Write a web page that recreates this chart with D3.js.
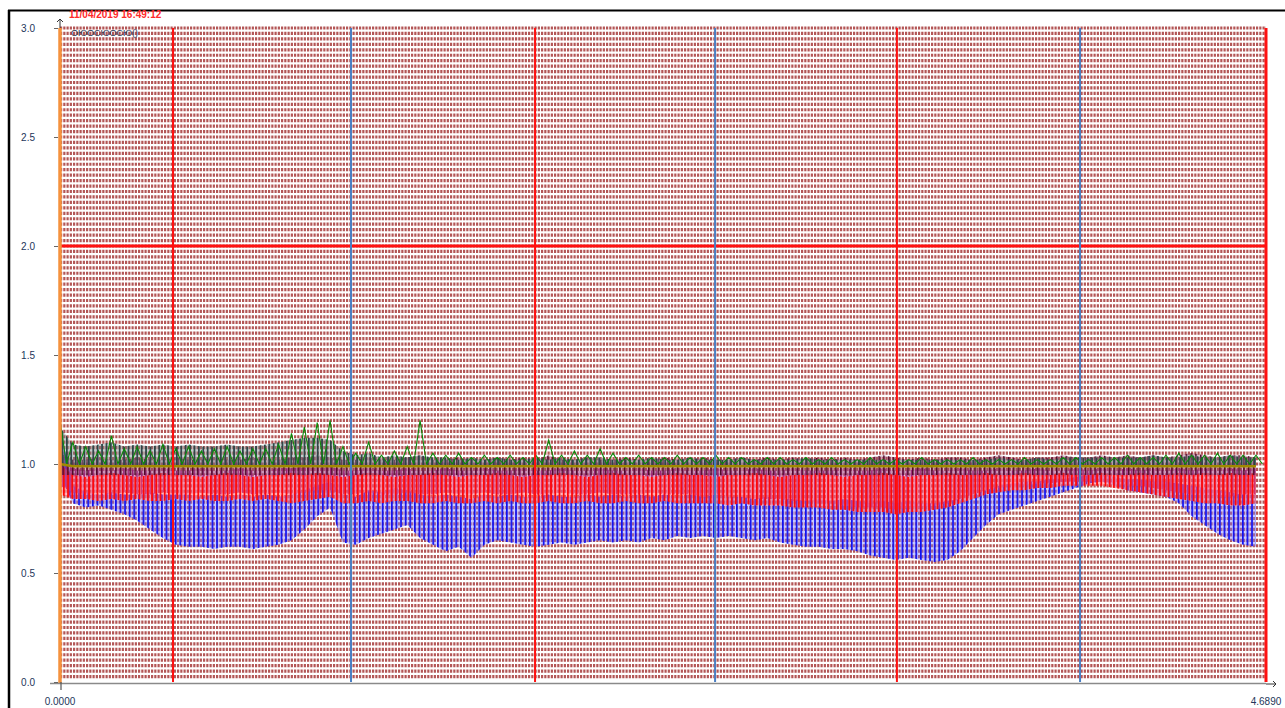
<!DOCTYPE html>
<html><head><meta charset="utf-8">
<script src="https://cdn.jsdelivr.net/npm/d3@7"></script>
<style>html,body{margin:0;padding:0;background:#fff;overflow:hidden}svg{display:block}</style>
</head><body>
<svg id="c" width="1285" height="708"></svg>
<script>
// ---------- data ----------
const timestamp = "11/04/2019 16:49:12";
const channelLabel = "ОЮОСЮОСЮ()";
const yTicks = [0.0, 0.5, 1.0, 1.5, 2.0, 2.5, 3.0];
const xTickLabels = ["0.0000", "4.6890"];
const xDomain = [0, 4.689];
const yDomain = [0, 3.0];
const redMarkers = [0.4394, 1.847, 3.254];
const blueMarkers = [1.1315, 2.547, 3.966];
const limitLine = 2.0;
const sampleStep = 0.05;

const blueLow = [0.95,0.82,0.80,0.81,0.79,0.77,0.74,0.70,0.66,0.63,
 0.62,0.62,0.61,0.62,0.62,0.61,0.62,0.63,0.65,0.70,
 0.76,0.80,0.64,0.63,0.66,0.68,0.70,0.72,0.66,0.63,
 0.60,0.62,0.57,0.63,0.65,0.64,0.63,0.62,0.63,0.64,
 0.63,0.64,0.65,0.64,0.65,0.64,0.66,0.65,0.67,0.66,
 0.67,0.66,0.67,0.66,0.65,0.66,0.64,0.63,0.62,0.62,
 0.61,0.61,0.60,0.58,0.57,0.56,0.57,0.56,0.55,0.56,
 0.60,0.66,0.72,0.77,0.79,0.81,0.83,0.85,0.87,0.89,
 0.91,0.92,0.90,0.88,0.87,0.86,0.85,0.82,0.76,0.72,
 0.68,0.65,0.63,0.62];
const blueHigh = [1.16,0.90,0.87,0.86,0.87,0.86,0.86,0.87,0.86,0.86,
 0.86,0.85,0.86,0.85,0.86,0.85,0.86,0.85,0.86,0.88,
 0.90,0.92,0.86,0.85,0.88,0.87,0.89,0.88,0.86,0.85,
 0.86,0.85,0.84,0.86,0.85,0.86,0.85,0.85,0.86,0.85,
 0.85,0.86,0.85,0.86,0.85,0.86,0.85,0.86,0.85,0.86,
 0.85,0.86,0.85,0.85,0.84,0.85,0.84,0.84,0.83,0.84,
 0.83,0.84,0.83,0.82,0.83,0.82,0.83,0.82,0.82,0.83,
 0.84,0.86,0.88,0.90,0.91,0.92,0.92,0.93,0.93,0.94,
 0.95,0.95,0.94,0.93,0.93,0.92,0.92,0.91,0.90,0.89,
 0.88,0.87,0.86,0.86];
const redLow = [0.86,0.84,0.84,0.83,0.84,0.83,0.84,0.83,0.83,0.84,
 0.83,0.84,0.83,0.83,0.84,0.83,0.84,0.83,0.82,0.83,
 0.84,0.85,0.82,0.82,0.83,0.82,0.83,0.83,0.82,0.82,
 0.83,0.82,0.82,0.83,0.82,0.83,0.82,0.82,0.83,0.82,
 0.82,0.83,0.82,0.82,0.83,0.82,0.82,0.83,0.82,0.82,
 0.82,0.82,0.81,0.82,0.81,0.81,0.81,0.80,0.80,0.80,
 0.79,0.79,0.78,0.78,0.78,0.77,0.78,0.78,0.79,0.80,
 0.82,0.84,0.86,0.87,0.88,0.88,0.89,0.89,0.90,0.90,
 0.90,0.90,0.89,0.88,0.87,0.86,0.85,0.84,0.83,0.82,
 0.82,0.81,0.81,0.82];
const redHigh = [1.00,0.95,0.94,0.95,0.96,0.95,0.94,0.95,0.96,0.95,
 0.95,0.94,0.95,0.96,0.95,0.94,0.95,0.95,0.96,0.95,
 0.96,0.95,0.94,0.95,0.96,0.95,0.94,0.95,0.95,0.96,
 0.95,0.94,0.95,0.95,0.96,0.95,0.94,0.95,0.95,0.96,
 0.95,0.94,0.95,0.96,0.95,0.95,0.94,0.95,0.96,0.95,
 0.95,0.94,0.95,0.95,0.96,0.95,0.94,0.95,0.95,0.96,
 0.95,0.94,0.95,0.95,0.96,0.95,0.94,0.95,0.95,0.96,
 0.95,0.95,0.96,0.95,0.95,0.96,0.95,0.95,0.96,0.95,
 0.95,0.96,0.95,0.95,0.96,0.95,0.95,0.96,0.95,0.96,
 0.95,0.96,0.95,0.96];
const magentaLow = [0.90,0.87,0.86,0.87,0.86,0.87,0.86,0.86,0.87,0.86,
 0.86,0.87,0.86,0.86,0.87,0.86,0.86,0.87,0.86,0.87,
 0.88,0.88,0.86,0.86,0.87,0.86,0.86,0.87,0.86,0.86,
 0.87,0.86,0.86,0.87,0.86,0.86,0.87,0.86,0.86,0.87,
 0.86,0.86,0.87,0.86,0.86,0.86,0.87,0.86,0.86,0.86,
 0.85,0.86,0.85,0.85,0.84,0.84,0.84,0.83,0.83,0.82,
 0.82,0.81,0.80,0.80,0.80,0.79,0.80,0.80,0.81,0.82,
 0.84,0.86,0.88,0.89,0.90,0.90,0.91,0.91,0.92,0.92,
 0.92,0.92,0.91,0.90,0.90,0.89,0.88,0.87,0.86,0.86,
 0.85,0.85,0.86,0.86];
const magentaHigh = [1.02,0.98,0.97,0.98,0.97,0.98,0.97,0.97,0.98,0.97,
 0.97,0.98,0.97,0.97,0.98,0.97,0.97,0.98,0.98,0.99,
 0.99,0.99,0.97,0.97,0.98,0.97,0.97,0.98,0.97,0.97,
 0.98,0.97,0.97,0.98,0.97,0.97,0.98,0.97,0.97,0.98,
 0.97,0.97,0.98,0.97,0.97,0.98,0.97,0.97,0.98,0.97,
 0.97,0.98,0.97,0.97,0.98,0.97,0.97,0.98,0.97,0.97,
 0.97,0.98,0.97,0.97,0.98,0.97,0.97,0.98,0.97,0.97,
 0.98,0.97,0.97,0.98,0.97,0.97,0.98,0.97,0.97,0.98,
 0.97,0.98,0.97,0.98,0.97,0.98,0.97,0.98,0.97,0.98,
 0.97,0.98,0.97,0.98];
const maroonBase = 0.95;
const maroonTop = [1.05,1.02,1.02,1.03,1.02,1.02,1.03,1.02,1.02,1.03,
 1.02,1.02,1.03,1.02,1.02,1.03,1.02,1.02,1.03,1.03,
 1.04,1.03,1.02,1.02,1.03,1.02,1.02,1.03,1.04,1.02,
 1.02,1.03,1.02,1.02,1.03,1.02,1.03,1.02,1.04,1.02,
 1.02,1.03,1.02,1.02,1.03,1.02,1.02,1.03,1.02,1.02,
 1.03,1.02,1.02,1.03,1.02,1.03,1.02,1.03,1.02,1.03,
 1.02,1.03,1.02,1.03,1.04,1.03,1.02,1.03,1.02,1.03,
 1.03,1.02,1.03,1.04,1.03,1.02,1.03,1.03,1.04,1.03,
 1.03,1.04,1.03,1.04,1.03,1.04,1.03,1.04,1.05,1.04,
 1.03,1.04,1.04,1.03];
const grayBase = 0.99;
const grayTop = [1.17,1.09,1.08,1.09,1.10,1.08,1.09,1.08,1.09,1.08,
 1.09,1.08,1.08,1.09,1.08,1.08,1.09,1.10,1.11,1.12,
 1.12,1.11,1.06,1.04,1.05,1.03,1.04,1.03,1.04,1.03,
 1.03,1.02,1.03,1.02,1.03,1.02,1.02,1.03,1.02,1.03,
 1.02,1.03,1.03,1.02,1.02,1.02,1.03,1.02,1.02,1.03,
 1.02,1.02,1.02,1.03,1.02,1.02,1.02,1.02,1.03,1.02,
 1.02,1.02,1.02,1.02,1.02,1.02,1.02,1.02,1.02,1.02,
 1.02,1.02,1.02,1.03,1.02,1.02,1.03,1.02,1.03,1.03,
 1.03,1.03,1.03,1.03,1.03,1.04,1.03,1.03,1.04,1.03,
 1.03,1.04,1.03,1.03];
const greenBase = 1.0;
const greenTop = [1.20,1.10,1.08,1.06,1.13,1.07,1.08,1.06,1.09,1.07,
 1.08,1.06,1.07,1.08,1.06,1.07,1.07,1.09,1.14,1.17,
 1.19,1.20,1.08,1.05,1.10,1.04,1.06,1.08,1.20,1.05,
 1.04,1.05,1.03,1.04,1.03,1.04,1.03,1.04,1.11,1.04,
 1.06,1.04,1.07,1.05,1.03,1.04,1.03,1.03,1.04,1.03,
 1.03,1.04,1.03,1.03,1.02,1.03,1.03,1.02,1.03,1.02,
 1.03,1.02,1.02,1.03,1.02,1.02,1.02,1.03,1.02,1.02,
 1.02,1.03,1.02,1.02,1.02,1.03,1.02,1.02,1.03,1.03,
 1.02,1.03,1.03,1.04,1.03,1.03,1.04,1.05,1.04,1.04,
 1.05,1.04,1.04,1.04];
const oliveVals = [1.00,0.99,0.99,0.99,0.99,0.99,0.99,0.99,0.99,0.99,
 0.99,0.99,0.99,0.99,0.99,0.99,0.99,0.99,0.99,0.99,
 0.99,0.99,0.99,0.99,0.99,0.99,0.99,0.99,0.99,0.99,
 0.99,0.99,0.99,0.99,0.99,0.99,0.99,0.99,0.99,0.99,
 0.99,0.99,0.99,0.99,0.99,0.99,0.99,0.99,0.99,0.99,
 0.99,0.99,0.99,0.99,0.99,0.99,0.99,0.99,0.99,0.99,
 0.99,0.99,0.99,0.99,0.99,0.99,0.99,0.99,0.99,0.99,
 0.99,0.99,0.99,0.99,0.99,0.99,0.99,0.99,0.99,0.99,
 0.99,0.99,0.99,0.99,0.99,0.99,0.99,0.99,0.99,0.99,
 0.99,0.99,0.99,0.99];

// ---------- layout ----------
const svg = d3.select("#c");
const L = 60, R = 1266, T = 28, B = 682;
const x = d3.scaleLinear().domain(xDomain).range([L, R]);
const y = d3.scaleLinear().domain(yDomain).range([B, T]);
const FONT = "'Liberation Sans', Arial, sans-serif";

// stripe patterns for dense signal bands
const defs = svg.append("defs");
function stripe(id, color, bg, w, sw) {
  const p = defs.append("pattern").attr("id", id).attr("patternUnits", "userSpaceOnUse")
    .attr("width", w).attr("height", 10);
  p.append("rect").attr("width", w).attr("height", 10).attr("fill", bg);
  p.append("rect").attr("width", sw).attr("height", 10).attr("fill", color);
}
stripe("pBlue", "#1010f0", "rgba(120,120,255,0.4)", 4.6, 1.7);
stripe("pRed", "#ff0808", "rgba(255,90,110,0.45)", 4.2, 1.8);
stripe("pMag", "#a0107e", "rgba(200,90,180,0.35)", 4.4, 1.4);
stripe("pMar", "#50082a", "rgba(140,60,100,0.35)", 4.8, 1.5);
stripe("pGray", "#2c4446", "rgba(110,130,130,0.4)", 4.4, 1.7);

// frame
svg.append("line").attr("x1",9).attr("x2",9).attr("y1",10).attr("y2",708).attr("stroke","#000").attr("stroke-width",2.5);
svg.append("line").attr("x1",8).attr("x2",1285).attr("y1",10.5).attr("y2",10.5).attr("stroke","#000").attr("stroke-width",2);

// background grid: rows of short dashes
const grid = svg.append("g");
const hStep = 0.025;
const hLines = d3.range(yDomain[0] + hStep, yDomain[1] + 1e-9, hStep);
grid.selectAll("line.h").data(hLines).join("line")
  .attr("x1", L).attr("x2", R).attr("y1", d => y(d)).attr("y2", d => y(d))
  .attr("stroke", "#b35656").attr("stroke-width", 3.2).attr("stroke-dasharray", "2.2,1.05");

// series: striped min/max bands
function zig(low, high) {
  const pts = [];
  high.forEach((h, i) => {
    const lo = Array.isArray(low) ? low[i] : low;
    const xi = i * sampleStep;
    pts.push([xi, h]);
    if (xi + sampleStep / 2 <= xDomain[1]) pts.push([xi + sampleStep / 2, lo]);
  });
  return pts;
}
function band(low, high) {
  return high.map((h, i) => ({x: Math.min(i * sampleStep, xDomain[1]), lo: Array.isArray(low) ? low[i] : low, hi: h}));
}
const line = d3.line().x(d => x(d[0])).y(d => y(d[1]));
const area = d3.area().x(d => x(d.x)).y0(d => y(d.lo)).y1(d => y(d.hi));
const series = [
  {low: blueLow, high: blueHigh, pat: "pBlue"},
  {low: magentaLow, high: magentaHigh, pat: "pMag"},
  {low: redLow, high: redHigh, pat: "pRed"},
  {low: maroonBase, high: maroonTop, pat: "pMar"},
  {low: grayBase, high: grayTop, pat: "pGray"},
];
const sg = svg.append("g");
series.forEach(s => {
  sg.append("path").attr("d", area(band(s.low, s.high))).attr("fill", `url(#${s.pat})`);
});
sg.append("path").attr("d", line(zig(greenBase, greenTop))).attr("fill","none")
  .attr("stroke", "#0a8a0a").attr("stroke-width", 1.1);
sg.append("path").attr("d", line(oliveVals.map((v,i)=>[i*sampleStep, v]))).attr("fill","none")
  .attr("stroke","#a08a00").attr("stroke-width",2.5);

// limit line & markers
svg.append("line").attr("x1",L).attr("x2",R).attr("y1",y(limitLine)).attr("y2",y(limitLine))
  .attr("stroke","#ff1010").attr("stroke-width",3);
svg.selectAll("line.rm").data(redMarkers).join("line")
  .attr("x1",d=>x(d)).attr("x2",d=>x(d)).attr("y1",T).attr("y2",B)
  .attr("stroke","#ff1010").attr("stroke-width",2);
svg.selectAll("line.bm").data(blueMarkers).join("line")
  .attr("x1",d=>x(d)).attr("x2",d=>x(d)).attr("y1",T).attr("y2",B)
  .attr("stroke","#4a7fc4").attr("stroke-width",2);
svg.append("line").attr("x1",x(xDomain[1])).attr("x2",x(xDomain[1])).attr("y1",T).attr("y2",B)
  .attr("stroke","#ff1010").attr("stroke-width",3);
svg.append("line").attr("x1",L).attr("x2",L).attr("y1",T).attr("y2",B+1)
  .attr("stroke","#f5923e").attr("stroke-width",3.5);

// axes
svg.append("line").attr("x1",50).attr("x2",R).attr("y1",B+1.5).attr("y2",B+1.5).attr("stroke","#8a8a8a").attr("stroke-width",1.5);
svg.append("line").attr("x1",L+1).attr("x2",L+1).attr("y1",B).attr("y2",B+8).attr("stroke","#555").attr("stroke-width",1.2);
svg.append("path").attr("d",`M${L},${T} L${L},${T-9} M${L-3},${T-6} L${L},${T-9} L${L+3},${T-6}`).attr("fill","none").attr("stroke","#333").attr("stroke-width",1);
svg.append("path").attr("d",`M${R},${B+2} L${R+10},${B+2} M${R+7},${B-1} L${R+10},${B+2} L${R+7},${B+5}`).attr("fill","none").attr("stroke","#333").attr("stroke-width",1);

const yAxis = d3.axisLeft(y).tickValues(yTicks).tickFormat(d3.format(".1f")).tickSize(4).tickPadding(19);
const ya = svg.append("g").attr("transform",`translate(${L-2},0)`).call(yAxis);
ya.select(".domain").remove();
ya.selectAll(".tick line").attr("stroke","#666");
ya.selectAll("text").attr("font-family",FONT).attr("font-size",10).attr("fill","#23365a");

svg.selectAll("text.xl").data(xDomain).join("text")
  .attr("x", d => x(d)).attr("y", 705).attr("text-anchor","middle")
  .attr("font-family",FONT).attr("font-size",10).attr("fill","#23365a")
  .text((d,i) => xTickLabels[i]);

svg.append("text").attr("x",69).attr("y",18).attr("font-family",FONT)
  .attr("font-size",10).attr("font-weight","bold").attr("fill","#ff2a2a").text(timestamp);
svg.append("text").attr("x",71).attr("y",36).attr("font-family",FONT)
  .attr("font-size",9).attr("fill","#2a3550").text(channelLabel);
</script>
</body></html>
